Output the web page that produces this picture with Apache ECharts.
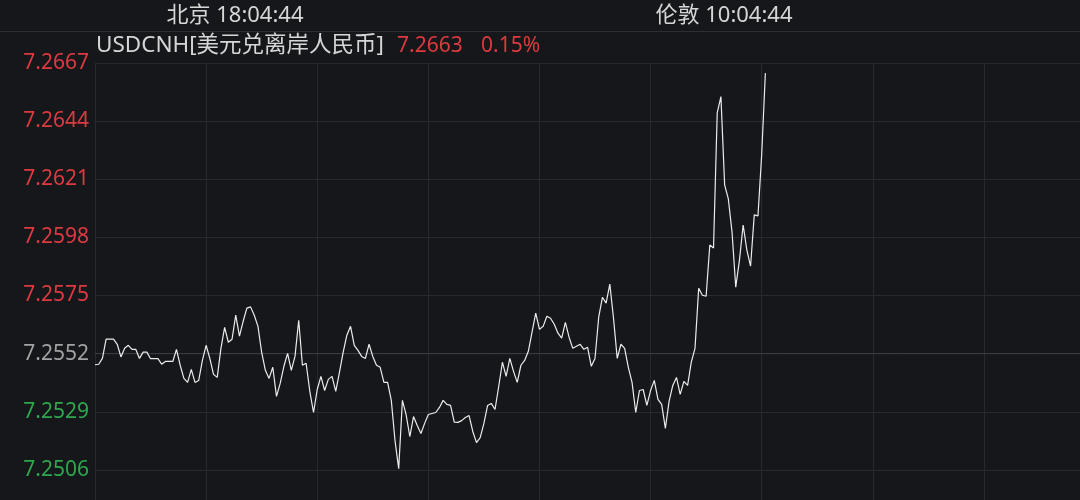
<!DOCTYPE html>
<html>
<head>
<meta charset="utf-8">
<script src="https://cdn.jsdelivr.net/npm/echarts@6/dist/echarts.min.js"></script>
<style>
html,body{margin:0;padding:0;background:#15171b;}
#chart{width:1080px;height:500px;}
</style>
</head>
<body>
<div id="chart"></div>
<script>
// ---- data ----
const symbolName = 'USDCNH[美元兑离岸人民币]';
const beijingLabel = '北京 18:04:44';
const londonLabel = '伦敦 10:04:44';
const lastPriceText = '7.2663';
const changeText = '0.15%';
const prevClose = 7.2552;
const yMin = 7.2483, yMax = 7.2667, yStep = 0.0023;
const slotsPerDivision = 30;
const divisions = 9;
const prices = [
7.25476,7.25478,7.25501,7.25577,7.25577,7.25577,7.25557,7.25507,7.25541,7.25553,
7.25537,7.25537,7.25501,7.25526,7.25526,7.25500,7.25500,7.25500,7.25478,7.25489,
7.25489,7.25489,7.25537,7.25474,7.25422,7.25406,7.25458,7.25406,7.25414,7.25493,
7.25553,7.25501,7.25438,7.25426,7.25541,7.25624,7.25565,7.25577,7.25672,7.25589,
7.25648,7.25700,7.25705,7.25672,7.25628,7.25525,7.25454,7.25422,7.25466,7.25351,
7.25402,7.25470,7.25521,7.25454,7.25509,7.25652,7.25474,7.25482,7.25371,7.25287,
7.25378,7.25430,7.25374,7.25418,7.25430,7.25371,7.25446,7.25525,7.25593,7.25628,
7.25553,7.25533,7.25509,7.25501,7.25557,7.25509,7.25474,7.25466,7.25406,7.25406,
7.25335,7.25176,7.25065,7.25335,7.25279,7.25192,7.25271,7.25236,7.25204,7.25244,
7.25279,7.25283,7.25287,7.25307,7.25335,7.25319,7.25315,7.25249,7.25248,7.25255,
7.25267,7.25275,7.25212,7.25168,7.25188,7.25244,7.25315,7.25323,7.25299,7.25390,
7.25486,7.25430,7.25501,7.25450,7.25406,7.25474,7.25493,7.25529,7.25605,7.25680,
7.25616,7.25628,7.25668,7.25660,7.25636,7.25601,7.25581,7.25644,7.25585,7.25541,
7.25549,7.25557,7.25537,7.25545,7.25470,7.25501,7.25664,7.25743,7.25720,7.25795,
7.25660,7.25501,7.25557,7.25541,7.25466,7.25406,7.25287,7.25374,7.25378,7.25315,
7.25374,7.25414,7.25339,7.25319,7.25224,7.25331,7.25394,7.25426,7.25359,7.25410,
7.25394,7.25486,7.25541,7.25779,7.25751,7.25747,7.25950,7.25938,7.26473,7.26537,
7.26188,7.26132,7.26001,7.25783,7.25890,7.26029,7.25930,7.25866,7.26069,7.26065,
7.26306,7.26630
];
const categories = Array.from({length: slotsPerDivision * divisions + 1}, (_, i) => i);
const prevCloseLine = categories.map(() => prevClose);

// ---- style ----
const RED = '#dd3a40', GREEN = '#2ea84c', GREY = '#a3a3a3', TEXT = '#d6d6d6';
const FONT = '"Noto Sans", "Noto Sans CJK SC", sans-serif';
const GRID = '#26292e';

const chart = echarts.init(document.getElementById('chart'), null, {renderer: 'canvas'});
chart.setOption({
  backgroundColor: '#15171b',
  animation: false,
  grid: {left: 95, right: -15, top: 63, bottom: -28, containLabel: false, outerBoundsMode: 'none'},
  xAxis: {
    type: 'category',
    data: categories,
    boundaryGap: false,
    axisLine: {show: false},
    axisTick: {show: false},
    axisLabel: {show: false},
    splitLine: {
      show: true,
      interval: (i) => i % slotsPerDivision === 0,
      lineStyle: {color: GRID, width: 1}
    }
  },
  yAxis: {
    type: 'value',
    min: yMin, max: yMax, interval: yStep,
    axisLine: {show: false},
    axisTick: {show: false},
    axisLabel: {
      margin: 6,
      fontSize: 21,
      fontFamily: FONT,
      formatter: (v) => (+v).toFixed(4),
      color: (v) => {
        const x = +v;
        if (Math.abs(x - prevClose) < 1e-6) return GREY;
        return x > prevClose ? RED : GREEN;
      }
    },
    splitLine: {show: true, lineStyle: {color: GRID, width: 1}}
  },
  series: [{
    type: 'line',
    data: prevCloseLine,
    showSymbol: false,
    symbol: 'none',
    lineStyle: {color: '#3d4046', width: 1},
    silent: true,
    z: 1
  }, {
    type: 'line',
    data: prices,
    showSymbol: false,
    symbol: 'none',
    lineStyle: {color: '#ececec', width: 1.2},
    silent: true,
    z: 2
  }],
  graphic: [
    {type: 'line', shape: {x1: 0, y1: 31.5, x2: 1080, y2: 31.5}, style: {stroke: '#2b2e33', lineWidth: 1}, silent: true},
    {type: 'text', x: 235, y: 16, style: {text: beijingLabel, fill: TEXT, fontSize: 22, fontFamily: FONT, align: 'center', verticalAlign: 'middle'}},
    {type: 'text', x: 724, y: 16, style: {text: londonLabel, fill: TEXT, fontSize: 22, fontFamily: FONT, align: 'center', verticalAlign: 'middle'}},
    {type: 'text', x: 96, y: 46, style: {text: symbolName, fill: TEXT, fontSize: 22.5, fontFamily: FONT, align: 'left', verticalAlign: 'middle'}},
    {type: 'text', x: 397, y: 46, style: {text: lastPriceText, fill: RED, fontSize: 21, fontFamily: FONT, align: 'left', verticalAlign: 'middle'}},
    {type: 'text', x: 481, y: 46, style: {text: changeText, fill: RED, fontSize: 21, fontFamily: FONT, align: 'left', verticalAlign: 'middle'}}
  ]
});
</script>
</body>
</html>
